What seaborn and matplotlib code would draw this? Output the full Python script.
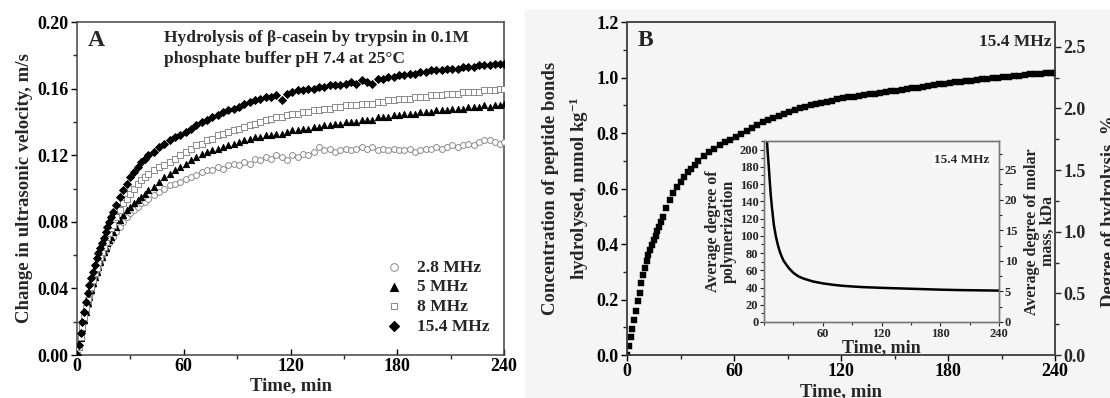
import numpy as np
import pandas as pd
import matplotlib
matplotlib.use("Agg")
import matplotlib.pyplot as plt
import seaborn as sns
from matplotlib.patches import Rectangle
from matplotlib.ticker import MultipleLocator, FormatStrFormatter

# tiempos de muestreo (min)
tiempo = np.concatenate([np.arange(0, 21, 1), np.arange(22, 41, 2), np.arange(43, 239, 3), [240]])

# Panel A: cambio de velocidad ultrasonica (m/s)
v_28 = [0.000, 0.005, 0.010, 0.015, 0.020, 0.025, 0.030, 0.034, 0.038, 0.042,
        0.046, 0.049, 0.052, 0.055, 0.058, 0.061, 0.063, 0.065, 0.067, 0.069, 0.071,
        0.074, 0.077, 0.080, 0.083, 0.085, 0.087, 0.089, 0.091, 0.092, 0.094,
        0.096, 0.098, 0.100, 0.102, 0.103, 0.104, 0.106, 0.107, 0.108, 0.110,
        0.111, 0.111, 0.113, 0.112, 0.114, 0.115, 0.114, 0.116, 0.115, 0.118,
        0.117, 0.119, 0.118, 0.120, 0.119, 0.117, 0.120, 0.119, 0.121, 0.120,
        0.122, 0.125, 0.123, 0.124, 0.122, 0.123, 0.124, 0.123, 0.124, 0.125,
        0.124, 0.125, 0.123, 0.124, 0.123, 0.124, 0.123, 0.123, 0.124, 0.122,
        0.123, 0.124, 0.124, 0.125, 0.124, 0.125, 0.126, 0.125, 0.126, 0.127,
        0.126, 0.128, 0.129, 0.129, 0.128, 0.127, 0.128]
v_5 = [0.000, 0.005, 0.010, 0.016, 0.021, 0.026, 0.031, 0.035, 0.039, 0.043,
       0.047, 0.050, 0.053, 0.056, 0.059, 0.062, 0.064, 0.067, 0.069, 0.071, 0.074,
       0.077, 0.081, 0.084, 0.087, 0.089, 0.091, 0.093, 0.095, 0.097, 0.099,
       0.101, 0.104, 0.107, 0.109, 0.111, 0.113, 0.115, 0.117, 0.119, 0.121,
       0.122, 0.123, 0.124, 0.125, 0.126, 0.127, 0.128, 0.129, 0.130, 0.131,
       0.131, 0.132, 0.132, 0.133, 0.133, 0.134, 0.135, 0.135, 0.136, 0.136,
       0.137, 0.137, 0.138, 0.138, 0.139, 0.139, 0.140, 0.140, 0.140, 0.141,
       0.141, 0.141, 0.143, 0.143, 0.143, 0.144, 0.144, 0.145, 0.145, 0.145,
       0.146, 0.146, 0.146, 0.147, 0.147, 0.147, 0.148, 0.148, 0.148, 0.149,
       0.149, 0.149, 0.150, 0.149, 0.150, 0.150, 0.151]
v_8 = [0.000, 0.005, 0.011, 0.017, 0.023, 0.028, 0.033, 0.037, 0.041, 0.045,
       0.049, 0.052, 0.056, 0.059, 0.062, 0.065, 0.068, 0.071, 0.073, 0.076, 0.078,
       0.083, 0.087, 0.091, 0.094, 0.097, 0.100, 0.103, 0.105, 0.107, 0.109,
       0.111, 0.113, 0.114, 0.116, 0.118, 0.120, 0.122, 0.124, 0.126, 0.127,
       0.129, 0.130, 0.132, 0.133, 0.134, 0.135, 0.136, 0.137, 0.138, 0.139,
       0.140, 0.141, 0.142, 0.143, 0.143, 0.144, 0.145, 0.145, 0.146, 0.146,
       0.147, 0.147, 0.148, 0.148, 0.149, 0.149, 0.150, 0.150, 0.150, 0.151,
       0.151, 0.151, 0.152, 0.152, 0.153, 0.153, 0.154, 0.154, 0.154, 0.155,
       0.155, 0.155, 0.156, 0.156, 0.156, 0.157, 0.157, 0.157, 0.158, 0.158,
       0.158, 0.158, 0.159, 0.159, 0.159, 0.160, 0.160]
v_154 = [0.000, 0.006, 0.013, 0.020, 0.026, 0.032, 0.037, 0.042, 0.046, 0.050,
         0.054, 0.058, 0.061, 0.064, 0.067, 0.070, 0.074, 0.077, 0.080, 0.083, 0.086,
         0.090, 0.095, 0.099, 0.103, 0.107, 0.110, 0.113, 0.116, 0.118, 0.120,
         0.122, 0.125, 0.127, 0.129, 0.131, 0.132, 0.134, 0.136, 0.138, 0.140,
         0.141, 0.143, 0.144, 0.146, 0.147, 0.148, 0.149, 0.151, 0.152, 0.153,
         0.154, 0.155, 0.155, 0.156, 0.153, 0.157, 0.158, 0.159, 0.159, 0.160,
         0.160, 0.161, 0.161, 0.162, 0.162, 0.162, 0.163, 0.164, 0.163, 0.165,
         0.164, 0.163, 0.166, 0.166, 0.167, 0.167, 0.168, 0.168, 0.169, 0.169,
         0.170, 0.170, 0.171, 0.171, 0.171, 0.172, 0.172, 0.172, 0.173, 0.173,
         0.173, 0.174, 0.174, 0.174, 0.175, 0.175, 0.175]

# Panel B: concentracion de enlaces hidrolizados (mmol/kg)
conc = [0.000, 0.033, 0.065, 0.095, 0.125, 0.160, 0.195, 0.225, 0.258, 0.288,
        0.315, 0.340, 0.360, 0.378, 0.398, 0.414, 0.430, 0.447, 0.463, 0.480, 0.498,
        0.530, 0.560, 0.585, 0.605, 0.625, 0.643, 0.658, 0.672, 0.686, 0.699,
        0.716, 0.730, 0.743, 0.755, 0.766, 0.776, 0.787, 0.798, 0.809, 0.819,
        0.829, 0.838, 0.847, 0.855, 0.862, 0.869, 0.876, 0.882, 0.889, 0.895,
        0.900, 0.905, 0.909, 0.913, 0.917, 0.921, 0.925, 0.928, 0.931, 0.934,
        0.937, 0.939, 0.942, 0.944, 0.947, 0.950, 0.952, 0.955, 0.958, 0.962,
        0.964, 0.966, 0.969, 0.972, 0.975, 0.978, 0.981, 0.983, 0.985, 0.987,
        0.989, 0.991, 0.993, 0.995, 0.997, 0.999, 1.001, 1.003, 1.005, 1.007,
        1.009, 1.011, 1.012, 1.014, 1.015, 1.017, 1.018]

# Inserto: grado medio de polimerizacion
t_ins = [1, 2, 3, 4, 5, 6, 7, 8, 10, 12, 14, 16, 18, 20, 25, 30, 35, 40, 50, 60,
         70, 80, 90, 100, 120, 140, 160, 180, 200, 220, 240]
dp = [260, 235, 210, 193, 178, 161, 146, 134, 113, 100, 90, 82, 76, 71, 63, 57,
      53, 50.5, 47, 44.8, 43.2, 42, 41.2, 40.5, 39.6, 38.9, 38.2, 37.5, 37, 36.7, 36.4]

series = ['2.8 MHz', '5 MHz', '8 MHz', '15.4 MHz']
df = pd.DataFrame({'time': tiempo, '2.8 MHz': v_28, '5 MHz': v_5,
                   '8 MHz': v_8, '15.4 MHz': v_154})
df = df.melt(id_vars='time', var_name='freq', value_name='dv')
dfB = pd.DataFrame({'time': tiempo, 'conc': conc})
dfI = pd.DataFrame({'time': t_ins, 'dp': dp})

sns.set_theme(style='ticks')
plt.rcParams['font.family'] = ['Liberation Serif', 'DejaVu Serif']
plt.rcParams['font.weight'] = 'bold'
plt.rcParams['axes.labelweight'] = 'bold'
plt.rcParams['mathtext.default'] = 'regular'

fig = plt.figure(figsize=(11.1, 3.98), dpi=100)
fig.patches.append(Rectangle((0.473, 0), 0.527, 0.975, transform=fig.transFigure,
                             color='#f5f5f5', zorder=-5))

frame = '#444444'
# ---------------- Panel A ----------------
axA = fig.add_axes([0.0694, 0.108, 0.3847, 0.8367])
estilos = {'2.8 MHz': ('o', 'white', '#8a8a8a', 18),
           '5 MHz': ('^', 'black', 'black', 20),
           '8 MHz': ('s', 'white', '#8a8a8a', 13),
           '15.4 MHz': ('D', 'black', 'black', 16)}
for f in series:
    m, fc, ec, s = estilos[f]
    sns.scatterplot(data=df[df['freq'] == f], x='time', y='dv', marker=m, s=s,
                    color=fc, edgecolor=ec, linewidth=0.7, ax=axA, label=f, zorder=3)
axA.set_xlim(0, 240)
axA.set_ylim(0, 0.20)
axA.xaxis.set_major_locator(MultipleLocator(60))
axA.xaxis.set_minor_locator(MultipleLocator(30))
axA.yaxis.set_major_locator(MultipleLocator(0.04))
axA.yaxis.set_minor_locator(MultipleLocator(0.02))
axA.yaxis.set_major_formatter(FormatStrFormatter('%.2f'))
axA.set_xlabel('Time, min', fontsize=13.5, labelpad=2)
axA.set_ylabel('Change in ultrasonic velocity, m/s', fontsize=13.5, labelpad=3)
axA.tick_params(axis='both', labelsize=13, colors='black', width=1, length=4, pad=2)
axA.tick_params(axis='x', direction='in')
axA.tick_params(which='minor', length=3, width=1)
axA.text(0.025, 0.975, 'A', transform=axA.transAxes, fontsize=17, fontweight='bold',
         va='top', ha='left')
axA.text(0.203, 0.975, 'Hydrolysis of β-casein by trypsin in 0.1M\nphosphate buffer pH 7.4 at 25°C',
         transform=axA.transAxes, fontsize=12.5, fontweight='bold', va='top', ha='left',
         linespacing=1.35)
leg = axA.legend(loc='lower right', bbox_to_anchor=(0.99, 0.03), frameon=False,
                 prop={'weight': 'bold', 'size': 12.5}, handletextpad=0.3,
                 labelspacing=0.2, markerscale=1.3, borderaxespad=0.2)
for sp in axA.spines.values():
    sp.set_color(frame)
    sp.set_linewidth(1.1)

# ---------------- Panel B ----------------
axB = fig.add_axes([0.5649, 0.108, 0.3856, 0.8367])
axB.set_facecolor('none')
sns.scatterplot(data=dfB, x='time', y='conc', marker='s', s=22, color='black',
                edgecolor='black', linewidth=0.3, ax=axB, zorder=3)
axB.set_xlim(0, 240)
axB.set_ylim(0, 1.2)
axB.xaxis.set_major_locator(MultipleLocator(60))
axB.xaxis.set_minor_locator(MultipleLocator(30))
axB.yaxis.set_major_locator(MultipleLocator(0.2))
axB.yaxis.set_minor_locator(MultipleLocator(0.1))
axB.yaxis.set_major_formatter(FormatStrFormatter('%.1f'))
axB.set_xlabel('Time, min', fontsize=13.5, labelpad=2)
axB.set_ylabel('Concentration of peptide bonds\nhydrolysed, mmol kg$^{-1}$', fontsize=13.5,
               labelpad=4, linespacing=1.5)
axB.tick_params(axis='both', labelsize=13, colors='black', width=1, length=4, pad=2)
axB.tick_params(which='minor', length=3, width=1)
axB.text(0.025, 0.975, 'B', transform=axB.transAxes, fontsize=17, fontweight='bold',
         va='top', ha='left')
axB.text(0.993, 0.965, '15.4 MHz', transform=axB.transAxes, fontsize=12.5,
         fontweight='bold', va='top', ha='right')
for sp in axB.spines.values():
    sp.set_color(frame)
    sp.set_linewidth(1.1)

axB2 = axB.twinx()
axB2.set_ylim(0, 2.70)
axB2.yaxis.set_major_locator(MultipleLocator(0.5))
axB2.yaxis.set_minor_locator(MultipleLocator(0.25))
axB2.yaxis.set_major_formatter(FormatStrFormatter('%.1f'))
axB2.tick_params(axis='y', labelsize=13, width=1, length=4, pad=2)
axB2.tick_params(which='minor', length=3, width=1)
for sp in axB2.spines.values():
    sp.set_color(frame)
    sp.set_linewidth(1.1)
fig.text(0.9995, 0.47, 'Degree of hydrolysis, %', rotation=90, fontsize=13.5,
         fontweight='bold', ha='center', va='center')

# ---------------- Inserto ----------------
axI = fig.add_axes([0.6883, 0.191, 0.2117, 0.4548])
axI.set_facecolor('#f5f5f5')
sns.lineplot(data=dfI, x='time', y='dp', color='black', linewidth=1.8, ax=axI)
axI.set_xlim(0, 240)
axI.set_ylim(0, 210)
axI.set_xticks([60, 120, 180, 240])
axI.xaxis.set_minor_locator(MultipleLocator(30))
axI.yaxis.set_major_locator(MultipleLocator(20))
axI.yaxis.set_minor_locator(MultipleLocator(10))
axI.tick_params(axis='both', labelsize=9, width=0.8, length=3, pad=1)
axI.tick_params(which='minor', length=2, width=0.8)
axI.set_xlabel('Time, min', fontsize=13, labelpad=0)
axI.set_ylabel('Average degree of\npolymerization', fontsize=11.5, labelpad=2,
               linespacing=1.0)
axI.text(0.96, 0.93, '15.4 MHz', transform=axI.transAxes, fontsize=9.5,
         fontweight='bold', va='top', ha='right',
         bbox=dict(facecolor='white', edgecolor='none', pad=1.5))
for sp in axI.spines.values():
    sp.set_color('#777777')
    sp.set_linewidth(1.0)

axI2 = axI.twinx()
axI2.set_ylim(0, 29.6)
axI2.yaxis.set_major_locator(MultipleLocator(5))
axI2.yaxis.set_minor_locator(MultipleLocator(2.5))
axI2.tick_params(axis='y', labelsize=9, width=0.8, length=3, pad=1)
axI2.tick_params(which='minor', length=2, width=0.8)
axI2.set_ylabel('Average degree of molar\nmass, kDa', fontsize=11.5, labelpad=5,
                linespacing=1.0)
for sp in axI2.spines.values():
    sp.set_color('#777777')
    sp.set_linewidth(1.0)

plt.savefig('out.png', dpi=100)
